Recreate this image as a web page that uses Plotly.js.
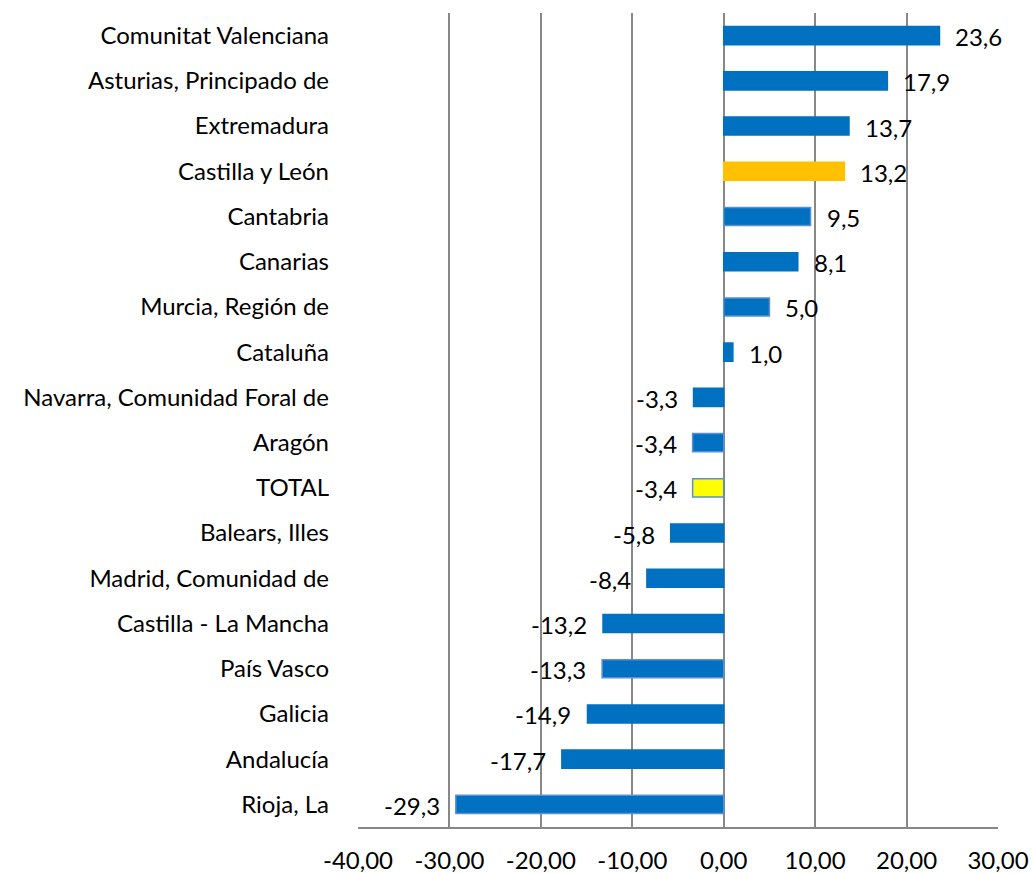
<!DOCTYPE html>
<html>
<head>
<meta charset="utf-8">
<script src="https://cdn.plot.ly/plotly-3.0.1.min.js"></script>
<style>html,body{margin:0;padding:0;background:#fff;}#chart{width:1032px;height:873px;}</style>
</head>
<body>
<div id="chart"></div>
<script>
const categories = ["Comunitat Valenciana","Asturias, Principado de","Extremadura","Castilla y León","Cantabria","Canarias","Murcia, Región de","Cataluña","Navarra, Comunidad Foral de","Aragón","TOTAL","Balears, Illes","Madrid, Comunidad de","Castilla - La Mancha","País Vasco","Galicia","Andalucía","Rioja, La"];
const values = [23.6,17.9,13.7,13.2,9.5,8.1,5.0,1.0,-3.3,-3.4,-3.4,-5.8,-8.4,-13.2,-13.3,-14.9,-17.7,-29.3];
const tickValues = [-40,-30,-20,-10,0,10,20,30];

const FONT = "Lato, 'Open Sans', sans-serif";
const FS = 24;
const fmt = (v, d) => v.toFixed(d).replace(".", ",");

const fillColors = categories.map(c => c === "Castilla y León" ? "#FFC000" : (c === "TOTAL" ? "#FFFF00" : "#0070C0"));
const bordered = ["Cantabria","Aragón","TOTAL","País Vasco","Rioja, La","Murcia, Región de"];
const lineColors = categories.map((c, i) => bordered.includes(c) ? "#5B8FD0" : fillColors[i]);

const trace = {
  type: "bar",
  orientation: "h",
  y: categories,
  x: values,
  width: 0.4,
  marker: {color: fillColors, line: {color: lineColors, width: 1.5}},
  hoverinfo: "x+y"
};

const annotations = values.map((v, i) => ({
  x: v, y: categories[i], xref: "x", yref: "y",
  text: fmt(v, 1),
  showarrow: false,
  xanchor: v >= 0 ? "left" : "right",
  xshift: v >= 0 ? 14 : -14,
  yshift: -1,
  font: {family: FONT, size: FS, color: "#000"}
}));

const layout = {
  width: 1032, height: 873,
  margin: {l: 358, r: 34, t: 13, b: 46},
  paper_bgcolor: "#fff", plot_bgcolor: "#fff",
  showlegend: false,
  font: {family: FONT, size: FS, color: "#000"},
  annotations: annotations,
  xaxis: {
    range: [-40, 30],
    tickmode: "array",
    tickvals: tickValues,
    ticktext: tickValues.map(v => fmt(v, 2)),
    showgrid: true, gridcolor: "#888888", gridwidth: 2,
    zeroline: true, zerolinecolor: "#888888", zerolinewidth: 2,
    showline: true, linecolor: "#888888", linewidth: 2,
    ticks: "", ticklabelstandoff: 11,
    tickfont: {family: FONT, size: FS, color: "#000"},
    fixedrange: true
  },
  yaxis: {
    autorange: "reversed",
    showgrid: false, zeroline: false, showline: false,
    ticks: "", ticklabelstandoff: 28,
    tickfont: {family: FONT, size: FS, color: "#000"},
    fixedrange: true
  },
  bargap: 0.6
};

Plotly.newPlot("chart", [trace], layout, {displayModeBar: false, staticPlot: true});
</script>
</body>
</html>
